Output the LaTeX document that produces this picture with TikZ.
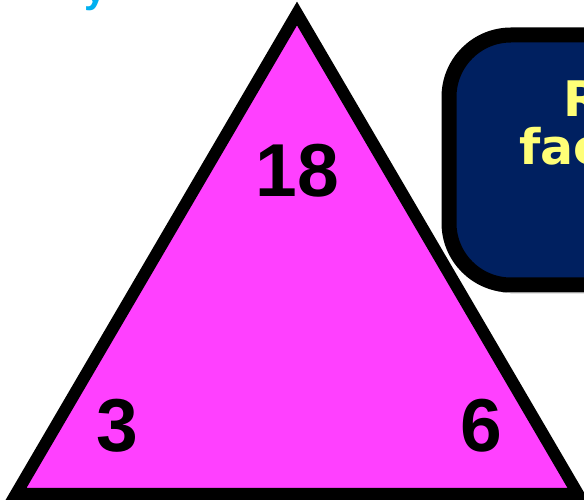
\documentclass[tikz,border=0pt]{standalone}
\usepackage{fontspec}
\usepackage{tikz}
\usetikzlibrary{shadows.blur}
\setmainfont{Liberation Sans}
\newfontfamily\boxfont{DejaVu Sans}
\definecolor{trimagenta}{HTML}{FF40FF}
\definecolor{boxnavy}{HTML}{002060}
\definecolor{boxyellow}{HTML}{FFFF77}
\definecolor{titlecyan}{HTML}{00B0F0}

\begin{document}
\begin{tikzpicture}[
  x=1pt,y=-1pt,
  every node/.style={inner sep=0pt},
  tri/.style={draw=black,line width=12pt,fill=trimagenta,miter limit=10},
  num/.style={font=\fontsize{75}{90}\selectfont\bfseries,anchor=base},
  msgbox/.style={draw=black,line width=15pt,fill=boxnavy,rounded corners=62pt,
                 blur shadow={shadow xshift=3pt,shadow yshift=-6pt,shadow blur steps=12}},
  boxtext/.style={font=\boxfont\fontsize{49}{49}\selectfont\bfseries,text=boxyellow,anchor=base west},
  title/.style={font=\fontsize{40}{48}\selectfont\bfseries,text=titlecyan,anchor=base west}
]
\clip (0,0) rectangle (584,502);
\fill[white] (0,0) rectangle (584,502);
% heading, cut off at the top
\node[title] (heading) at (84,2.5) {y};
% triangle
\coordinate (apex) at (297,13.5);
\coordinate (left) at (16,494);
\coordinate (right) at (578,494);
\draw[tri] (apex) -- (left) -- (right) -- cycle;
\node[num] (n18) at (297.5,197) {18};
\node[num] (n3) at (117.5,452) {3};
\node[num] (n6) at (481,452) {6};
% message box, runs off the right edge
\draw[msgbox] (449,35) rectangle (760,285);
\node[boxtext] (line1) at (563.5,117) {R};
\node[boxtext] (line2) at (519,165) {fac};
\end{tikzpicture}
\end{document}
